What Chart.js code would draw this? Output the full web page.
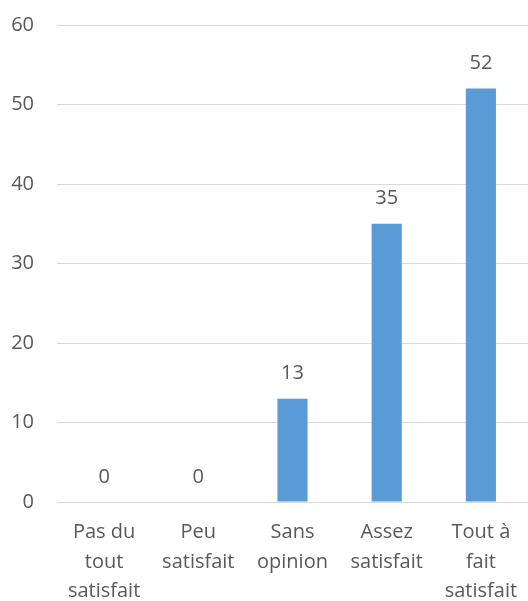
<!DOCTYPE html>
<html>
<head>
<meta charset="utf-8">
<script src="https://cdn.jsdelivr.net/npm/chart.js@4.4.1/dist/chart.umd.min.js"></script>
<style>
  html, body { margin: 0; padding: 0; background: #fff; }
  #wrap { width: 528px; height: 601px; }
</style>
</head>
<body>
<div id="wrap"><canvas id="myChart"></canvas></div>
<script>
'use strict'

var categories = [
    ["Pas du", "tout", "satisfait"],
    ["Peu", "satisfait"],
    ["Sans", "opinion"],
    ["Assez", "satisfait"],
    ["Tout à", "fait", "satisfait"]
];
var values = [0, 0, 13, 35, 52];
var yTicks = [0, 10, 20, 30, 40, 50, 60];

var textColor = "#595959";
var fontFamily = "'Open Sans', sans-serif";

// labels above the bars
var valueLabels = {
    id: 'valueLabels',
    afterDatasetsDraw: function (chart) {
        var ctx = chart.ctx;
        var meta = chart.getDatasetMeta(0);
        ctx.save();
        ctx.fillStyle = textColor;
        ctx.font = "20px " + fontFamily;
        ctx.textAlign = "center";
        ctx.textBaseline = "middle";
        meta.data.forEach(function (bar, i) {
            ctx.fillText(String(values[i]), bar.x, bar.y - 25);
        });
        ctx.restore();
    }
};

var ctx = document.getElementById("myChart").getContext('2d');

var myChart = new Chart(ctx, {
    type: 'bar',
    data: {
        labels: categories,
        datasets: [{
            data: values,
            backgroundColor: "#5b9bd5",
            categoryPercentage: 1,
            barPercentage: 0.32
        }]
    },
    plugins: [valueLabels],
    options: {
        responsive: true,
        maintainAspectRatio: false,
        animation: false,
        layout: { padding: { top: 25, right: 0, bottom: 0, left: 0 } },
        plugins: {
            legend: { display: false },
            tooltip: { enabled: false }
        },
        scales: {
            x: {
                grid: { display: false, drawTicks: false },
                border: { display: false },
                ticks: {
                    color: textColor,
                    font: { family: fontFamily, size: 20, lineHeight: 1.47 },
                    padding: 16,
                    maxRotation: 0,
                    autoSkip: false
                },
                afterFit: function (s) {
                    s.height = 99;
                    s.paddingLeft = 0;
                    s.paddingRight = 0;
                }
            },
            y: {
                min: 0,
                max: 60,
                afterBuildTicks: function (s) {
                    s.ticks = yTicks.map(function (v) { return { value: v }; });
                },
                grid: { color: "#d9d9d9", lineWidth: 1, drawTicks: false },
                border: { display: false },
                ticks: {
                    color: textColor,
                    font: { family: fontFamily, size: 20 },
                    padding: 23
                },
                afterFit: function (s) {
                    s.width = 57;
                    s.paddingTop = 0;
                    s.paddingBottom = 0;
                }
            }
        }
    }
});
</script>
</body>
</html>
